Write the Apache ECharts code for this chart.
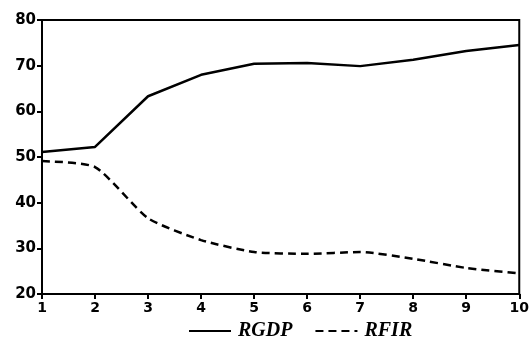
<!DOCTYPE html>
<html><head><meta charset="utf-8">
<script src="https://cdn.jsdelivr.net/npm/echarts@6/dist/echarts.min.js"></script>
<style>html,body{margin:0;padding:0;background:#fff}#c{width:532px;height:340px}</style>
</head><body><div id="c"></div>
<script>
var categories = ['1','2','3','4','5','6','7','8','9','10'];
var rgdp = [51.1, 52.2, 63.3, 68.0, 70.4, 70.6, 69.9, 71.3, 73.2, 74.5];
var rfir = [49.1, 47.8, 36.6, 31.8, 29.2, 28.8, 29.2, 27.7, 25.7, 24.5];
var yTicks = [20, 30, 40, 50, 60, 70, 80];

var chart = echarts.init(document.getElementById('c'), null, {renderer:'canvas'});
chart.setOption({
  animation: false,
  backgroundColor: '#fff',
  grid: {left: 42, right: 7, top: 20, bottom: 46, show: true, borderColor: '#000', borderWidth: 2},
  legend: {
    top: 316, left: 183, itemWidth: 42, itemHeight: 14, itemGap: 22,
    itemStyle: {opacity: 0},
    textStyle: {fontFamily: 'Liberation Serif', fontStyle: 'italic', fontWeight: 'bold', fontSize: 20, color: '#000', padding: [0,0,0,2]},
    data: ['RGDP', 'RFIR']
  },
  xAxis: {
    type: 'category', data: categories, boundaryGap: false,
    axisLine: {lineStyle: {color: '#000', width: 2}},
    axisTick: {show: true, inside: false, length: 5, alignWithLabel: true, lineStyle: {color:'#000', width: 2}},
    axisLabel: {color: '#000', fontFamily: 'DejaVu Sans', fontWeight: 'bold', fontSize: 14, margin: 7},
    splitLine: {show: false}
  },
  yAxis: {
    type: 'value', min: yTicks[0], max: yTicks[yTicks.length-1], interval: 10,
    axisLine: {show: true, lineStyle: {color: '#000', width: 2}},
    axisTick: {show: true, length: 5, lineStyle: {color:'#000', width: 2}},
    axisLabel: {color: '#000', fontFamily: 'DejaVu Sans', fontWeight: 'bold', fontSize: 15, margin: 6},
    splitLine: {show: false}
  },
  series: [
    {name: 'RGDP', type: 'line', data: rgdp, symbol: 'none', smooth: false,
     lineStyle: {color: '#000', width: 2.5, type: 'solid'}, itemStyle: {color: '#000'}},
    {name: 'RFIR', type: 'line', data: rfir, symbol: 'none', smooth: 0.2,
     lineStyle: {color: '#000', width: 2.5, type: [8, 5]}, itemStyle: {color: '#000'}}
  ]
});
</script></body></html>
